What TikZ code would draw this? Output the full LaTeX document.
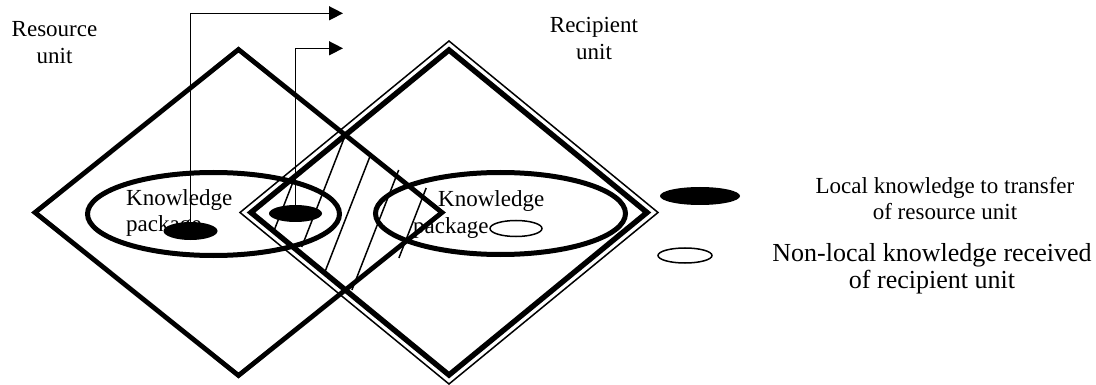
\documentclass[tikz,border=0pt]{standalone}
\usepackage{fontspec}
\setmainfont{Liberation Serif}
\usetikzlibrary{arrows.meta,shapes.geometric}
\begin{document}
\begin{tikzpicture}[x=1pt,y=-1pt,
  unitdiam/.style={line width=4.8pt,line join=miter},
  recthick/.style={line width=5.4pt,line join=miter},
  recthin/.style={line width=1.5pt,line join=miter},
  bigell/.style={line width=5pt},
  hatchline/.style={line width=1.5pt},
  arr/.style={line width=1.5pt,-{Triangle[length=14pt,width=14pt]}},
  kfill/.style={ellipse,fill=black,inner sep=0pt},
  kopen/.style={ellipse,draw=black,fill=white,inner sep=0pt,line width=1.5pt},
  lbl/.style={inner sep=0pt,anchor=base,font=\fontsize{23}{26.7}\selectfont},
  lblbig/.style={inner sep=0pt,anchor=base,font=\fontsize{26}{26.7}\selectfont}]
\path[use as bounding box,fill=white] (0,0) rectangle (1096,385);

% resource unit diamond
\draw[unitdiam] (238.5,49.5) -- (442,212.5) -- (238.5,375.5) -- (35,212.5) -- cycle;
% recipient unit diamond (thick-thin)
\draw[recthick] (449,50) -- (647,212.5) -- (449,375) -- (251,212.5) -- cycle;
\draw[recthin] (449,41) -- (658,212.5) -- (449,384) -- (240,212.5) -- cycle;

% hatching of the overlap
\draw[hatchline] (292.6,183) -- (274.3,230);
\draw[hatchline] (344.2,138) -- (301.7,247);
\draw[hatchline] (371.3,153) -- (324.5,273);
\draw[hatchline] (398.7,170) -- (351.9,290);
\draw[hatchline] (426.2,188) -- (398.9,258);

% knowledge package ellipses
\draw[bigell] (213.5,214) ellipse [x radius=126pt,y radius=41.5pt];
\draw[bigell] (500.5,213.5) ellipse [x radius=125pt,y radius=41pt];

% texts
\node[lbl] (res) at (54.5,37) {\begin{tabular}[t]{@{}c@{}}Resource\\unit\end{tabular}};
\node[lbl] (rec) at (594,33) {\begin{tabular}[t]{@{}c@{}}Recipient\\unit\end{tabular}};
\node[lbl,anchor=base west] (kp1) at (126,205) {\begin{tabular}[t]{@{}l@{}}Knowledge\\package\end{tabular}};
\node[lbl,anchor=base west] (kp2) at (413,207) {\begin{tabular}[t]{@{}l@{}}\hspace*{25pt}Knowledge\\package\end{tabular}};

% small knowledge ellipses
\node[kfill,minimum width=54pt,minimum height=18pt] (kb1) at (190.5,231) {};
\node[kfill,minimum width=53pt,minimum height=17pt] (kb2) at (295.5,213.5) {};
\node[kopen,minimum width=52pt,minimum height=16pt] (kw1) at (516,228.5) {};

% transfer arrows
\coordinate (t1) at (343,13.3);
\coordinate (t2) at (343,48.3);
\draw[arr] (kb1.north) |- (t1);
\draw[arr] (kb2.north) |- (t2);

% legend
\node[kfill,minimum width=80pt,minimum height=18pt] (lgb) at (700,196) {};
\node[kopen,minimum width=54pt,minimum height=15pt] (lgw) at (685,255.5) {};
\node[lbl] (lt1) at (945,193.3) {\begin{tabular}[t]{@{}c@{}}Local knowledge to transfer\\of resource unit\end{tabular}};
\node[lblbig] (lt2) at (932,261.7) {\begin{tabular}[t]{@{}c@{}}Non-local knowledge received\\of recipient unit\end{tabular}};
\end{tikzpicture}
\end{document}
